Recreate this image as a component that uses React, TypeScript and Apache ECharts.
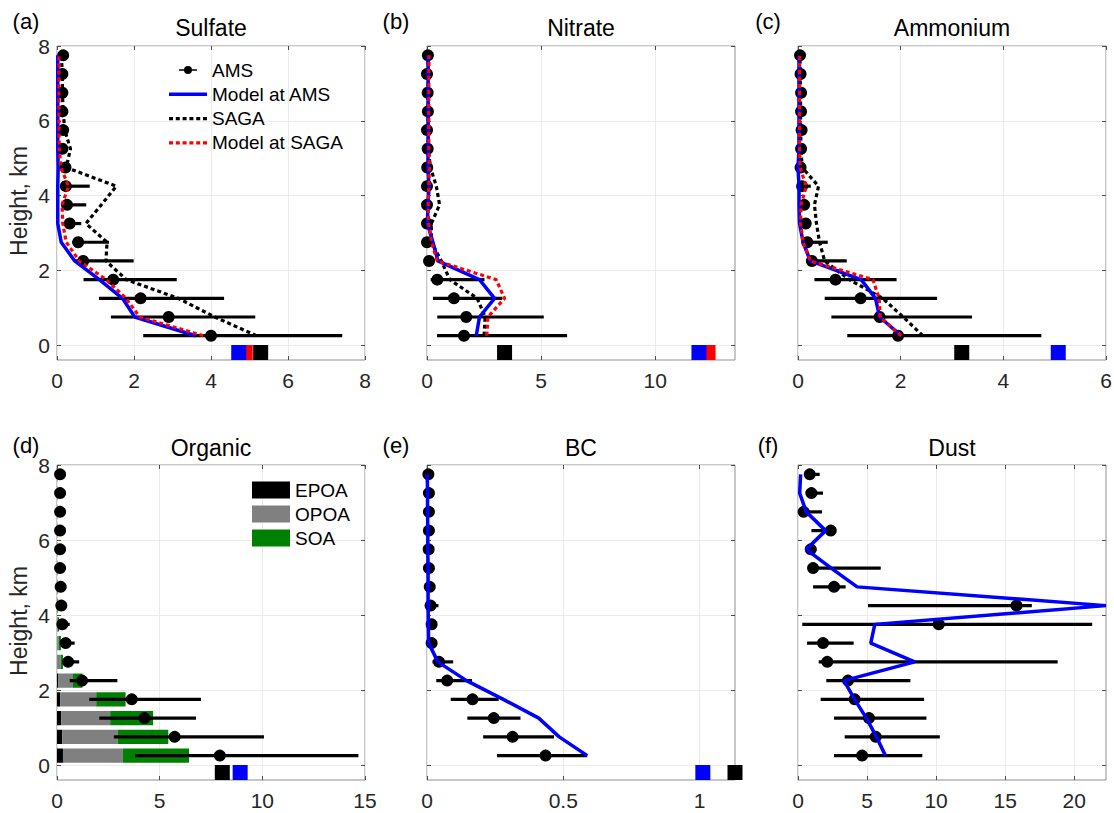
import React, { useEffect, useRef } from "react";
import * as echarts from "echarts";

// ---------------- data ----------------
const heights = [0.25, 0.75, 1.25, 1.75, 2.25, 2.75, 3.25, 3.75, 4.25, 4.75, 5.25, 5.75, 6.25, 6.75, 7.25, 7.75];

// Sulfate
const sulfateAMS = [4.0, 2.9, 2.17, 1.46, 0.68, 0.55, 0.33, 0.26, 0.23, 0.22, 0.14, 0.16, 0.14, 0.14, 0.14, 0.16];
const sulfateAMSLow = [2.24, 1.4, 1.09, 0.69, 0.46, 0.4, 0.15, 0.12, 0.11, 0.15, 0.1, 0.1, 0.1, 0.1, 0.1, 0.1];
const sulfateAMSHigh = [7.41, 5.15, 4.34, 3.11, 1.99, 1.35, 0.63, 0.76, 0.85, 0.28, 0.18, 0.2, 0.18, 0.18, 0.18, 0.2];
const sulfateModelAMS = [3.6, 2.02, 1.7, 1.1, 0.46, 0.11, 0.02, 0.02, 0.02, 0.03, 0.02, 0.02, 0.02, 0.02, 0.02, 0.02];
const sulfateSAGA = [5.18, 4.1, 3.15, 1.8, 1.27, 1.3, 0.75, 1.15, 1.54, 0.24, 0.35, 0.2, 0.16, 0.14, 0.14, 0.11];
const sulfateModelSAGA = [3.8, 2.15, 1.79, 1.28, 0.58, 0.24, 0.15, 0.13, 0.3, 0.1, 0.06, 0.05, 0.05, 0.05, 0.05, 0.05];
const sulfateSurface = [5.29, 4.72, 4.89]; // obs, model at AMS, model at SAGA

// Nitrate
const nitrateAMS = [1.62, 1.72, 1.18, 0.45, 0.09, 0.0, 0.0, 0.0, 0.0, 0.01, 0.03, 0.0, 0.04, 0.03, 0.0, 0.04];
const nitrateAMSLow = [0.44, 0.45, 0.26, 0.16, 0.02, 0, 0, 0, 0, 0, 0.01, 0, 0.02, 0.01, 0, 0.02];
const nitrateAMSHigh = [6.14, 5.12, 3.3, 2.52, 0.2, 0.1, 0.1, 0.1, 0.1, 0.12, 0.12, 0.1, 0.12, 0.12, 0.1, 0.12];
const nitrateModelAMS = [2.16, 2.3, 2.96, 2.3, 0.48, 0.26, 0.02, 0.04, 0.09, 0.04, 0.05, 0.05, 0.05, 0.05, 0.05, 0.05];
const nitrateSAGA = [2.5, 2.55, 2.2, 1.0, 0.63, 0.19, 0.19, 0.55, 0.41, 0.15, 0.06, 0.05, 0.05, 0.05, 0.05, 0.05];
const nitrateModelSAGA = [2.62, 2.67, 3.4, 3.03, 0.45, 0.2, 0.07, 0.05, 0.08, 0.1, 0.08, 0.08, 0.08, 0.08, 0.08, 0.09];
const nitrateSurface = [3.4, 11.92, 12.32];

// Ammonium
const ammoniumAMS = [1.95, 1.59, 1.22, 0.73, 0.27, 0.18, 0.15, 0.12, 0.08, 0.05, 0.06, 0.07, 0.06, 0.06, 0.05, 0.04];
const ammoniumAMSLow = [0.96, 0.65, 0.52, 0.32, 0.2, 0.1, 0.08, 0.06, 0.04, 0.03, 0.03, 0.04, 0.03, 0.03, 0.03, 0.02];
const ammoniumAMSHigh = [4.74, 3.39, 2.71, 1.92, 0.95, 0.58, 0.25, 0.22, 0.25, 0.1, 0.1, 0.12, 0.1, 0.1, 0.09, 0.08];
const ammoniumModelAMS = [2.01, 1.59, 1.51, 1.23, 0.24, 0.1, 0.03, 0.02, 0.02, 0.0, 0.02, 0.02, 0.02, 0.02, 0.02, 0.02];
const ammoniumSAGA = [2.43, 2.05, 1.65, 1.0, 0.52, 0.42, 0.36, 0.32, 0.4, 0.08, 0.06, 0.05, 0.05, 0.05, 0.04, 0.04];
const ammoniumModelSAGA = [2.01, 1.6, 1.58, 1.46, 0.24, 0.1, 0.05, 0.06, 0.16, 0.04, 0.03, 0.03, 0.03, 0.03, 0.03, 0.03];
const ammoniumSurface = [3.19, 5.07];

// Organic
const organicAMS = [7.93, 5.73, 4.26, 3.64, 1.22, 0.54, 0.42, 0.26, 0.21, 0.18, 0.15, 0.15, 0.15, 0.15, 0.15, 0.15];
const organicAMSLow = [3.8, 2.77, 2.06, 1.57, 0.62, 0.3, 0.2, 0.1, 0.1, 0.1, 0.08, 0.08, 0.08, 0.08, 0.08, 0.08];
const organicAMSHigh = [14.68, 10.08, 6.77, 7.01, 2.94, 1.08, 0.86, 0.62, 0.32, 0.28, 0.24, 0.24, 0.24, 0.24, 0.24, 0.24];
const organicEPOA = [0.29, 0.26, 0.2, 0.15, 0.07, 0.02, 0.01, 0.01, 0.005, 0.004, 0.003, 0.003, 0.002, 0.002, 0.002, 0.002];
const organicOPOA = [2.92, 2.69, 2.39, 1.76, 0.71, 0.16, 0.08, 0.03, 0.02, 0.01, 0.01, 0.01, 0.01, 0.01, 0.01, 0.01];
const organicSOA = [3.22, 2.47, 2.09, 1.43, 0.46, 0.11, 0.1, 0.06, 0.03, 0.02, 0.015, 0.01, 0.01, 0.01, 0.01, 0.01];
const organicSurface = [8.05, 8.92];

// BC
const bcAMS = [0.435, 0.314, 0.245, 0.167, 0.074, 0.044, 0.017, 0.017, 0.013, 0.01, 0.007, 0.006, 0.007, 0.007, 0.007, 0.005];
const bcAMSLow = [0.257, 0.206, 0.148, 0.087, 0.034, 0.02, 0.008, 0.008, 0.005, 0.004, 0.003, 0.002, 0.003, 0.003, 0.003, 0.002];
const bcAMSHigh = [0.588, 0.466, 0.343, 0.263, 0.165, 0.096, 0.026, 0.026, 0.042, 0.018, 0.013, 0.012, 0.013, 0.013, 0.013, 0.01];
const bcModelAMS = [0.588, 0.485, 0.41, 0.28, 0.145, 0.04, 0.006, 0.005, 0.004, 0.004, 0.004, 0.003, 0.003, 0.002, 0.002, 0.001];
const bcSurface = [1.13, 1.012];

// Dust
const dustAMS = [4.64, 5.63, 5.14, 4.1, 3.62, 2.12, 1.81, 10.19, 15.82, 2.61, 1.09, 0.92, 2.37, 0.41, 0.97, 0.85];
const dustAMSLow = [2.61, 3.38, 2.61, 1.64, 2.05, 1.5, 0.65, 0.31, 5.07, 1.09, 0.72, 0.6, 0.97, 0.12, 0.56, 0.48];
const dustAMSHigh = [9.0, 10.27, 9.3, 9.13, 8.14, 18.8, 4.03, 21.3, 16.93, 3.45, 5.99, 1.33, 2.73, 1.74, 1.81, 1.57];
const dustModelAMS = [6.33, 5.68, 4.95, 4.1, 3.33, 8.45, 5.27, 5.56, 22.3, 4.28, 2.4, 0.6, 2.0, 0.6, 0.12, 0.19];

const yTicks = [0, 2, 4, 6, 8];
const surfaceHeight = -0.2;

// ---------------- styling ----------------
const FONT = "'Liberation Sans', Arial, Helvetica, sans-serif";
const BLUE = "#0000ff";
const RED = "#ff0000";
const BLACK = "#000000";
const GRAY = "#808080";
const GREEN = "#008000";
const AMS_ICON =
  "path://M0,7.3h0.01v0.01h-0.01z M38,7.3h0.01v0.01h-0.01z M10,6.5h18v1.6h-18z M15,7.3a4,4 0 1,1 8,0a4,4 0 1,1 -8,0z";
const SOLID_ICON = "path://M0,5.3h38v3.4h-38z";
const DOTTED_ICON =
  "path://M0,5.3h4v3.4h-4z M6.8,5.3h4v3.4h-4z M13.6,5.3h4v3.4h-4z M20.4,5.3h4v3.4h-4z M27.2,5.3h4v3.4h-4z M34,5.3h4v3.4h-4z";

type Panel = {
  title: string;
  letter: string;
  col: number;
  row: number;
  xMax: number;
  xTicks: number[];
  ams: number[];
  lo: number[];
  hi: number[];
  modelAMS?: number[];
  saga?: number[];
  modelSAGA?: number[];
  surface: { v: number; c: string }[];
  bars?: { name: string; vals: number[]; color: string }[];
};

const panels: Panel[] = [
  {
    title: "Sulfate", letter: "(a)", col: 0, row: 0, xMax: 8, xTicks: [0, 2, 4, 6, 8],
    ams: sulfateAMS, lo: sulfateAMSLow, hi: sulfateAMSHigh,
    modelAMS: sulfateModelAMS, saga: sulfateSAGA, modelSAGA: sulfateModelSAGA,
    surface: [{ v: sulfateSurface[2], c: RED }, { v: sulfateSurface[1], c: BLUE }, { v: sulfateSurface[0], c: BLACK }],
  },
  {
    title: "Nitrate", letter: "(b)", col: 1, row: 0, xMax: 13.5, xTicks: [0, 5, 10],
    ams: nitrateAMS, lo: nitrateAMSLow, hi: nitrateAMSHigh,
    modelAMS: nitrateModelAMS, saga: nitrateSAGA, modelSAGA: nitrateModelSAGA,
    surface: [{ v: nitrateSurface[2], c: RED }, { v: nitrateSurface[1], c: BLUE }, { v: nitrateSurface[0], c: BLACK }],
  },
  {
    title: "Ammonium", letter: "(c)", col: 2, row: 0, xMax: 6, xTicks: [0, 2, 4, 6],
    ams: ammoniumAMS, lo: ammoniumAMSLow, hi: ammoniumAMSHigh,
    modelAMS: ammoniumModelAMS, saga: ammoniumSAGA, modelSAGA: ammoniumModelSAGA,
    surface: [{ v: ammoniumSurface[1], c: BLUE }, { v: ammoniumSurface[0], c: BLACK }],
  },
  {
    title: "Organic", letter: "(d)", col: 0, row: 1, xMax: 15, xTicks: [0, 5, 10, 15],
    ams: organicAMS, lo: organicAMSLow, hi: organicAMSHigh,
    surface: [{ v: organicSurface[0], c: BLACK }, { v: organicSurface[1], c: BLUE }],
    bars: [
      { name: "EPOA", vals: organicEPOA, color: BLACK },
      { name: "OPOA", vals: organicOPOA, color: GRAY },
      { name: "SOA", vals: organicSOA, color: GREEN },
    ],
  },
  {
    title: "BC", letter: "(e)", col: 1, row: 1, xMax: 1.13, xTicks: [0, 0.5, 1],
    ams: bcAMS, lo: bcAMSLow, hi: bcAMSHigh, modelAMS: bcModelAMS,
    surface: [{ v: bcSurface[1], c: BLUE }, { v: bcSurface[0], c: BLACK }],
  },
  {
    title: "Dust", letter: "(f)", col: 2, row: 1, xMax: 22.3, xTicks: [0, 5, 10, 15, 20],
    ams: dustAMS, lo: dustAMSLow, hi: dustAMSHigh, modelAMS: dustModelAMS,
    surface: [],
  },
];

const colLeft = [57, 427, 798];
const colCenter = [211, 581, 952];
const letterX = [26, 396, 768];
const rowTop = [46, 465];
const rowHeight = [314, 315];
const titleY = [28, 448];
const letterY = [21, 445];

function errRender(params: any, api: any) {
  const a = api.coord([api.value(0), api.value(2)]);
  const b = api.coord([api.value(1), api.value(2)]);
  return {
    type: "line",
    shape: { x1: a[0], y1: a[1], x2: b[0], y2: b[1] },
    style: { stroke: BLACK, lineWidth: 3.2 },
  };
}

function makeBarRender(color: string) {
  return (params: any, api: any) => {
    const s = api.coord([api.value(0), api.value(2)]);
    const e = api.coord([api.value(1), api.value(2)]);
    const hh = api.size([0, 0.38])[1];
    return {
      type: "rect",
      shape: { x: s[0], y: s[1] - hh / 2, width: Math.max(e[0] - s[0], 0), height: hh },
      style: { fill: color },
    };
  };
}

function buildOption() {
  const grid: any[] = [];
  const xAxis: any[] = [];
  const yAxis: any[] = [];
  const series: any[] = [];
  const tickStyle = { color: "#4d4d4d", width: 1 };

  panels.forEach((p, i) => {
    grid.push({
      left: colLeft[p.col], top: rowTop[p.row], width: 308, height: rowHeight[p.row],
      show: true, borderColor: "#8f8f8f", borderWidth: 1, backgroundColor: "#ffffff",
      containLabel: false, outerBoundsMode: "none",
    });
    const xBase = {
      type: "value", gridIndex: i, min: 0, max: p.xMax,
      axisLine: { show: false, onZero: false },
    };
    xAxis.push({
      ...xBase, position: "bottom",
      axisTick: { show: true, inside: true, length: 4, customValues: p.xTicks, lineStyle: tickStyle },
      axisLabel: { show: true, customValues: p.xTicks, margin: 10, fontSize: 21, fontFamily: FONT, color: "#262626" },
      splitLine: { show: true, lineStyle: { color: "#ebebeb", width: 1 } },
    });
    xAxis.push({
      ...xBase, position: "top",
      axisTick: { show: true, inside: true, length: 4, customValues: p.xTicks, lineStyle: tickStyle },
      axisLabel: { show: false },
      splitLine: { show: false },
    });
    const yBase = {
      type: "value", gridIndex: i, min: -0.4, max: 8,
      axisLine: { show: false, onZero: false },
    };
    yAxis.push({
      ...yBase, position: "left",
      axisTick: { show: true, inside: true, length: 4, customValues: yTicks, lineStyle: tickStyle },
      axisLabel: { show: p.col === 0, customValues: yTicks, margin: 7, fontSize: 21, fontFamily: FONT, color: "#262626" },
      splitLine: { show: true, lineStyle: { color: "#ebebeb", width: 1 } },
    });
    yAxis.push({
      ...yBase, position: "right",
      axisTick: { show: true, inside: true, length: 4, customValues: yTicks, lineStyle: tickStyle },
      axisLabel: { show: false },
      splitLine: { show: false },
    });

    const ax = { xAxisIndex: 2 * i, yAxisIndex: 2 * i };

    if (p.bars) {
      const cum = heights.map(() => 0);
      p.bars.forEach((b) => {
        const data = heights.map((h, k) => {
          const start = cum[k];
          cum[k] = start + b.vals[k];
          return [start, cum[k], h];
        });
        series.push({
          type: "custom", name: b.name, ...ax, renderItem: makeBarRender(b.color),
          encode: { x: [0, 1], y: 2 }, itemStyle: { color: b.color, opacity: 1 }, data, z: 2, silent: true,
        });
      });
    }

    series.push({
      type: "custom", name: "AMS range", ...ax, renderItem: errRender,
      encode: { x: [0, 1], y: 2 },
      data: heights.map((h, k) => [p.lo[k], p.hi[k], h]), z: 3, silent: true,
    });
    series.push({
      type: "scatter", name: "AMS", ...ax, symbol: "circle", symbolSize: 12,
      itemStyle: { color: BLACK, opacity: 1 }, data: heights.map((h, k) => [p.ams[k], h]), z: 3, silent: true,
    });

    const line = (name: string, vals: number[], color: string, dotted: boolean) => ({
      type: "line", name, ...ax, data: heights.map((h, k) => [vals[k], h]),
      symbol: "none", showSymbol: false, clip: false, z: 4, silent: true,
      itemStyle: { color, opacity: 1 },
      lineStyle: { color, width: dotted ? 3.2 : 3.5, type: dotted ? [4, 3] : "solid", cap: "butt", opacity: 1 },
    });
    if (p.saga) series.push(line("SAGA", p.saga, BLACK, true));
    if (p.modelAMS) series.push(line("Model at AMS", p.modelAMS, BLUE, false));
    if (p.modelSAGA) series.push(line("Model at SAGA", p.modelSAGA, RED, true));

    if (p.surface.length) {
      series.push({
        type: "scatter", name: "Surface mean", ...ax, symbol: "rect", symbolSize: 15, clip: false,
        z: 5, silent: true,
        data: p.surface.map((s) => ({ value: [s.v, surfaceHeight], itemStyle: { color: s.c, opacity: 1 } })),
      });
    }
  });

  const graphic: any[] = [];
  panels.forEach((p) => {
    graphic.push({
      type: "text", x: colCenter[p.col], y: titleY[p.row], silent: true,
      style: { text: p.title, fontSize: 23, fontFamily: FONT, fill: "#000", align: "center", verticalAlign: "middle" },
    });
    graphic.push({
      type: "text", x: letterX[p.col], y: letterY[p.row], silent: true,
      style: { text: p.letter, fontSize: 22, fontFamily: FONT, fill: "#000", align: "center", verticalAlign: "middle" },
    });
  });
  [201, 621].forEach((y) => {
    graphic.push({
      type: "text", x: 19, y, rotation: Math.PI / 2, silent: true,
      style: { text: "Height, km", fontSize: 23, fontFamily: FONT, fill: "#262626", align: "center", verticalAlign: "middle" },
    });
  });

  return {
    animation: false,
    backgroundColor: "#ffffff",
    grid,
    xAxis,
    yAxis,
    series,
    graphic,
    legend: [
      {
        orient: "vertical", left: 169, top: 60, padding: 0, itemWidth: 38, itemHeight: 14, itemGap: 4.3,
        selectedMode: false,
        textStyle: { fontSize: 19, fontFamily: FONT, color: "#000", lineHeight: 20 },
        data: [
          { name: "AMS", icon: AMS_ICON },
          { name: "Model at AMS", icon: SOLID_ICON },
          { name: "SAGA", icon: DOTTED_ICON },
          { name: "Model at SAGA", icon: DOTTED_ICON },
        ],
      },
      {
        orient: "vertical", left: 252, top: 480, padding: 0, itemWidth: 38, itemHeight: 17, itemGap: 4,
        selectedMode: false,
        textStyle: { fontSize: 19, fontFamily: FONT, color: "#000", lineHeight: 20 },
        data: [{ name: "EPOA", icon: "rect" }, { name: "OPOA", icon: "rect" }, { name: "SOA", icon: "rect" }],
      },
    ],
  };
}

export default function App() {
  const ref = useRef<HTMLDivElement>(null);
  useEffect(() => {
    if (!ref.current) return;
    const chart = echarts.init(ref.current, null, { renderer: "svg" });
    chart.setOption(buildOption() as any);
    return () => chart.dispose();
  }, []);
  return (
    <div
      ref={ref}
      style={{ position: "fixed", left: 0, top: 0, width: 1114, height: 813, background: "#ffffff" }}
    />
  );
}
